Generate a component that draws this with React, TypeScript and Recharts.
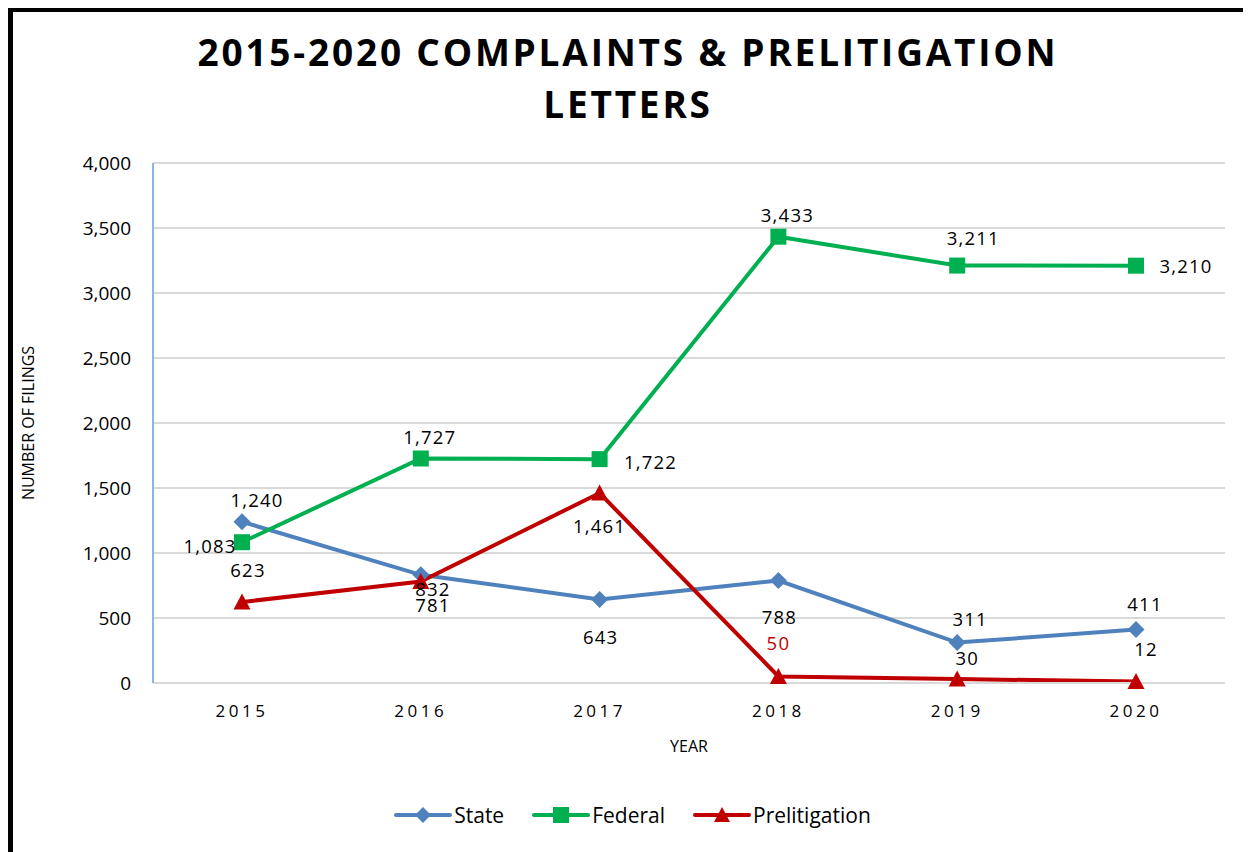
import { CartesianGrid, LabelList, Legend, Line, LineChart, XAxis, YAxis } from 'recharts';

const years = ['2015', '2016', '2017', '2018', '2019', '2020'];
const stateFilings = [1240, 832, 643, 788, 311, 411];
const federalFilings = [1083, 1727, 1722, 3433, 3211, 3210];
const prelitigationLetters = [623, 781, 1461, 50, 30, 12];
const yTicks = [0, 500, 1000, 1500, 2000, 2500, 3000, 3500, 4000];

const rows = years.map((year, i) => ({
  year,
  State: stateFilings[i],
  Federal: federalFilings[i],
  Prelitigation: prelitigationLetters[i],
}));

const BLUE = '#4f81bd';
const GREEN = '#00b050';
const RED = '#c00000';
const FONT = '"Open Sans", sans-serif';

// label nudges [dx, dy] per point, mirroring the manual placement in the original
const stateLabelNudge = [[15, -22], [12, 14], [1, 37], [1, 36], [13, -24], [9, -26]];
const federalLabelNudge = [[-32, 3], [9, -22], [51, 2], [9, -22], [16, -28], [50, 0]];
const prelitLabelNudge = [[6, -33], [12, 23], [0, 32], [0, -34], [10, -22], [10, -33]];

const fmt = (v: number) => v.toLocaleString('en-US');

function makeLabel(nudge: number[][], colorAt?: (i: number) => string) {
  return (p: any) => {
    const i = p.index ?? 0;
    const [dx, dy] = nudge[i] || [0, 0];
    return (
      <text
        x={Number(p.x) + dx}
        y={Number(p.y) + dy}
        textAnchor="middle"
        dominantBaseline="central"
        fontFamily={FONT}
        fontSize={18.5}
        letterSpacing={1.2}
        fill={colorAt ? colorAt(i) : '#000'}
      >
        {fmt(Number(p.value))}
      </text>
    );
  };
}

const Diamond = ({ cx, cy, fill, r = 8.5 }: any) => (
  <polygon points={`${cx},${cy - r} ${cx + r},${cy} ${cx},${cy + r} ${cx - r},${cy}`} fill={fill} />
);
const Square = ({ cx, cy, fill, r = 8 }: any) => (
  <rect x={cx - r} y={cy - r} width={r * 2} height={r * 2} fill={fill} />
);
const Triangle = ({ cx, cy, fill, r = 8.5 }: any) => (
  <polygon points={`${cx},${cy - r} ${cx + r},${cy + r - 1} ${cx - r},${cy + r - 1}`} fill={fill} />
);

const legendItems = [
  { name: 'State', color: BLUE, Shape: Diamond },
  { name: 'Federal', color: GREEN, Shape: Square },
  { name: 'Prelitigation', color: RED, Shape: Triangle },
];

const ChartLegend = () => (
  <div style={{ display: 'flex', justifyContent: 'center', alignItems: 'center', height: 30, gap: 28, paddingLeft: 14 }}>
    {legendItems.map(({ name, color, Shape }) => (
      <div key={name} style={{ display: 'flex', alignItems: 'center' }}>
        <svg width={58} height={20}>
          <line x1={2} y1={10} x2={56} y2={10} stroke={color} strokeWidth={4} strokeLinecap="round" />
          <Shape cx={29} cy={10} fill={color} r={8} />
        </svg>
        <span style={{ fontFamily: FONT, fontSize: 21, color: '#000', marginLeft: 2 }}>{name}</span>
      </div>
    ))}
  </div>
);

export default function App() {
  return (
    <div style={{ position: 'relative', width: 1251, height: 852, marginLeft: -8, marginTop: -8, background: '#fff', overflow: 'hidden' }}>
      <div
        style={{
          position: 'absolute',
          left: 0,
          top: 26,
          width: 1256,
          textAlign: 'center',
          fontFamily: FONT,
          fontWeight: 700,
          fontSize: 37,
          letterSpacing: 2.8,
          lineHeight: '52px',
          color: '#000',
        }}
      >
        2015-2020 COMPLAINTS &amp; PRELITIGATION
        <br />
        LETTERS
      </div>
      <div style={{ position: 'absolute', left: 0, top: 0 }}>
        <LineChart width={1251} height={852} data={rows} margin={{ top: 163, right: 26, left: 83, bottom: 79 }}>
          <CartesianGrid vertical={false} stroke="#d9d9d9" strokeWidth={2} />
          <XAxis
            dataKey="year"
            height={60}
            padding={{ left: 89, right: 89 }}
            axisLine={{ stroke: '#d9d9d9', strokeWidth: 2 }}
            tickLine={false}
            tickSize={0}
            tickMargin={22}
            tick={{ fontFamily: FONT, fontSize: 17, fill: '#000', letterSpacing: 3.5 }}
            label={(p: any) => {
              const vb = p.viewBox || {};
              return (
                <text x={vb.x + vb.width / 2} y={vb.y + 63} textAnchor="middle" dominantBaseline="central" fontFamily={FONT} fontSize={16} fill="#000">
                  YEAR
                </text>
              );
            }}
          />
          <YAxis
            width={70}
            domain={[0, 4000]}
            ticks={yTicks}
            interval={0}
            tickFormatter={fmt}
            axisLine={{ stroke: '#8eb4e3', strokeWidth: 2 }}
            tickLine={false}
            tickSize={0}
            tickMargin={22}
            tick={{ fontFamily: FONT, fontSize: 19, fill: '#000' }}
            label={(p: any) => {
              const vb = p.viewBox || {};
              const cy = vb.y + vb.height / 2;
              return (
                <text x={28} y={cy} transform={`rotate(-90 28 ${cy})`} textAnchor="middle" dominantBaseline="central" fontFamily={FONT} fontSize={16} fill="#000">
                  NUMBER OF FILINGS
                </text>
              );
            }}
          />
          <Legend verticalAlign="bottom" content={() => <ChartLegend />} wrapperStyle={{ bottom: 22, left: 0, width: 1251 }} />
          <Line
            dataKey="State"
            stroke={BLUE}
            strokeWidth={4}
            isAnimationActive={false}
            dot={(p: any) => <Diamond key={`s${p.index}`} cx={p.cx} cy={p.cy} fill={BLUE} />}
            activeDot={false}
          >
            <LabelList dataKey="State" content={makeLabel(stateLabelNudge)} />
          </Line>
          <Line
            dataKey="Federal"
            stroke={GREEN}
            strokeWidth={4}
            isAnimationActive={false}
            dot={(p: any) => <Square key={`f${p.index}`} cx={p.cx} cy={p.cy} fill={GREEN} />}
            activeDot={false}
          >
            <LabelList dataKey="Federal" content={makeLabel(federalLabelNudge)} />
          </Line>
          <Line
            dataKey="Prelitigation"
            stroke={RED}
            strokeWidth={4}
            isAnimationActive={false}
            dot={(p: any) => <Triangle key={`p${p.index}`} cx={p.cx} cy={p.cy} fill={RED} />}
            activeDot={false}
          >
            <LabelList dataKey="Prelitigation" content={makeLabel(prelitLabelNudge, (i) => (i === 3 ? RED : '#000'))} />
          </Line>
        </LineChart>
      </div>
      {/* frame of the original picture: only its left and top edges are in view */}
      <svg width={1251} height={852} style={{ position: 'absolute', left: 0, top: 0, pointerEvents: 'none' }}>
        <rect x={8} y={8} width={5} height={844} fill="#000" />
        <rect x={8} y={8} width={1243} height={4} fill="#000" />
      </svg>
    </div>
  );
}
